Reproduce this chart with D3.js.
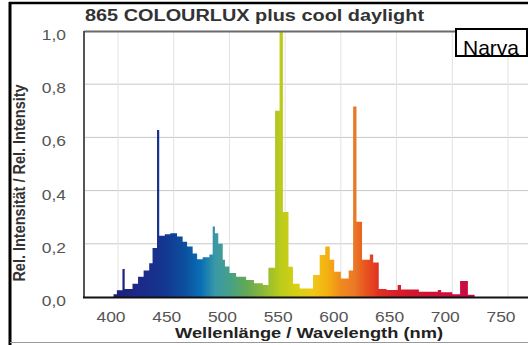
<!DOCTYPE html>
<html><head><meta charset="utf-8">
<script src="https://cdn.jsdelivr.net/npm/d3@7/dist/d3.min.js"></script>
<style>html,body{margin:0;padding:0;background:#fff;}svg{display:block;font-family:"Liberation Sans",Arial,sans-serif;}</style>
</head><body><svg id="c" width="528" height="345"></svg>
<script>
// Spectrum: step start wavelength (nm) and relative intensity
const wavelengths = [390,396,399,404,406,413,418,423,428,431,435,437,442,447,453,458,462,467,471,476,482,485,487,490,494,496,500,506,515,522,530,535,541,545,548,553,557,563,575,581,586,590,594,600,607,611,614,619,626,629,634,641,651,654,670,687,690,700,707,714,720];
const intensity   = [0,0.01,0.025,0.105,0.03,0.05,0.076,0.10,0.127,0.184,0.628,0.23,0.236,0.24,0.227,0.208,0.19,0.164,0.142,0.149,0.16,0.265,0.24,0.20,0.14,0.115,0.09,0.076,0.064,0.052,0.045,0.11,0.70,1.0,0.32,0.114,0.05,0.032,0.083,0.158,0.19,0.14,0.095,0.07,0.10,0.716,0.283,0.14,0.16,0.13,0.03,0.026,0.045,0.028,0.02,0.026,0.018,0.01,0.06,0.008,0];
const xTicks = [400,450,500,550,600,650,700,750];
const yTicks = [0,0.2,0.4,0.6,0.8,1.0];
const gradStops = [[395,"#1b1f7a"],[420,"#1c2a8a"],[440,"#15358f"],[460,"#0b4f9f"],[475,"#0a70b5"],[487,"#3a98a8"],[500,"#45a08a"],[515,"#62a856"],[530,"#8ab83a"],[545,"#b9cb1c"],[560,"#d6d012"],[575,"#f0c818"],[588,"#f4b010"],[600,"#f08a1e"],[612,"#ea7a26"],[622,"#e8551e"],[635,"#df2e22"],[660,"#d5162e"],[720,"#c80a44"]];

const svg = d3.select("#c");
const W = 528, H = 345;
svg.append("rect").attr("width",W).attr("height",H).attr("fill","#fff");

const plotL = 84, plotT = 31, plotB = 297, plotR = 528;
const x = d3.scaleLinear().domain([400,750]).range([118,508]);
const y = d3.scaleLinear().domain([0,1]).range([plotB,plotT]);
const stretch = 1.2;

// gradient
const defs = svg.append("defs");
const lg = defs.append("linearGradient").attr("id","spec").attr("gradientUnits","userSpaceOnUse")
  .attr("x1",x(390)).attr("x2",x(720)).attr("y1",0).attr("y2",0);
lg.selectAll("stop").data(gradStops).join("stop")
  .attr("offset",d=>((d[0]-390)/(720-390)))
  .attr("stop-color",d=>d[1]);

// grid
const g = svg.append("g");
g.selectAll(".hg").data(yTicks.filter(v=>v>0&&v<1)).join("line")
  .attr("x1",plotL).attr("x2",plotR).attr("y1",d=>y(d)).attr("y2",d=>y(d))
  .attr("stroke","#c8c8c8").attr("stroke-width",1);
g.selectAll(".vg").data(xTicks).join("line")
  .attr("x1",d=>x(d)).attr("x2",d=>x(d)).attr("y1",plotT).attr("y2",plotB)
  .attr("stroke","#e2e2e2").attr("stroke-width",1);

// spectrum
const data = wavelengths.map((w,i)=>({w, v:intensity[i]}));
const area = d3.area().x(d=>x(d.w)).y0(y(0)).y1(d=>y(d.v)).curve(d3.curveStepAfter);
svg.append("path").datum(data).attr("d",area).attr("fill","url(#spec)");

// borders
svg.append("line").attr("x1",plotL).attr("x2",456).attr("y1",plotT+0.5).attr("y2",plotT+0.5).attr("stroke","#6a6a6a").attr("stroke-width",2);
svg.append("line").attr("x1",plotL).attr("x2",plotL).attr("y1",plotT).attr("y2",plotB).attr("stroke","#555").attr("stroke-width",2);
svg.append("line").attr("x1",plotL-1).attr("x2",plotR).attr("y1",plotB+0.5).attr("y2",plotB+0.5).attr("stroke","#111").attr("stroke-width",2);

// y axis labels
svg.selectAll(".yl").data(yTicks).join("text")
  .attr("transform",d=>`translate(66,${y(d)+9}) scale(${stretch},1)`).attr("text-anchor","end")
  .attr("font-size",14.5).attr("fill","#555")
  .text(d=>d3.format(".1f")(d).replace(".",","));
// x axis labels
svg.selectAll(".xl").data(xTicks).join("text")
  .attr("transform",d=>`translate(${x(d)-7},322) scale(${stretch},1)`).attr("text-anchor","middle")
  .attr("font-size",14.5).attr("fill","#555")
  .text(d=>d);

// titles
svg.append("text").attr("x",85).attr("y",21).attr("font-size",16).attr("font-weight","bold").attr("fill","#333")
  .attr("textLength",339).attr("lengthAdjust","spacingAndGlyphs")
  .text("865 COLOURLUX plus cool daylight");
svg.append("text").attr("x",175).attr("y",338).attr("font-size",14.5).attr("font-weight","bold").attr("fill","#222")
  .attr("textLength",268).attr("lengthAdjust","spacingAndGlyphs")
  .text("Wellenlänge / Wavelength (nm)");
svg.append("text").attr("transform",`translate(25,183) scale(${stretch},1) rotate(-90)`).attr("text-anchor","middle").attr("font-size",14.5).attr("font-weight","bold").attr("fill","#333")
  .text("Rel. Intensität / Rel. Intensity");

// Narva box
svg.append("rect").attr("x",456).attr("y",29).attr("width",71).attr("height",27).attr("fill","#fff").attr("stroke","#000").attr("stroke-width",2);
svg.append("text").attr("x",463).attr("y",55).attr("font-size",21).attr("fill","#000").text("Narva");

// outer frame
svg.append("line").attr("x1",10).attr("x2",10).attr("y1",2).attr("y2",H).attr("stroke","#000").attr("stroke-width",3);
svg.append("line").attr("x1",9).attr("x2",W).attr("y1",3).attr("y2",3).attr("stroke","#000").attr("stroke-width",2.5);
svg.append("line").attr("x1",10).attr("x2",W).attr("y1",342.5).attr("y2",342.5).attr("stroke","#999").attr("stroke-width",1);
</script></body></html>
